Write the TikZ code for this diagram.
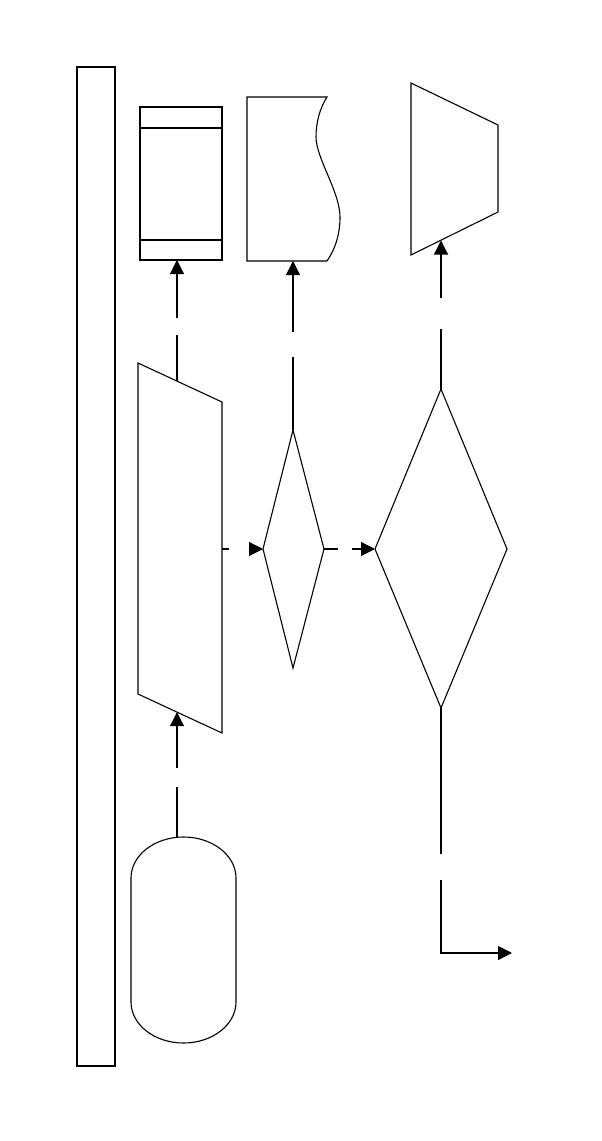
\documentclass[tikz,border=0pt]{standalone}
\usetikzlibrary{arrows.meta}
\begin{document}
\begin{tikzpicture}[x=0.5pt,y=-0.5pt,
  shapeline/.style={draw=black,line width=0.55pt},
  conn/.style={draw=black,line width=0.55pt},
  arr/.style={conn,-{Triangle[length=7pt,width=7pt]}}]
\useasboundingbox (0,0) rectangle (601,1141);
% lane
\draw[shapeline] (77,67) rectangle (115,1066);
% storage box
\draw[shapeline] (140,107) rectangle (222,260);
\draw[shapeline] (140,128) -- (222,128) (140,240) -- (222,240);
\coordinate (storeB) at (177,260);
% paper tape
\draw[shapeline] (247,97) -- (327,97)
  .. controls (320,108) and (316,122) .. (316,137)
  .. controls (316,158) and (340,192) .. (340,217)
  .. controls (340,233) and (336,248) .. (327,261)
  -- (247,261) -- cycle;
\coordinate (tapeB) at (293,261);
% trapezoid
\draw[shapeline] (411,83) -- (498,125) -- (498,212) -- (411,255) -- cycle;
\coordinate (trapB) at (441,240.5);
% parallelogram
\draw[shapeline] (138,363) -- (222,402) -- (222,733) -- (138,694) -- cycle;
\coordinate (parT) at (177,381.2);
\coordinate (parB) at (177,712.2);
\coordinate (parR) at (222,549);
% small diamond
\draw[shapeline] (293,430) -- (324,549) -- (293,668) -- (263,549) -- cycle;
\coordinate (sdT) at (293,430);
\coordinate (sdL) at (263,549);
\coordinate (sdR) at (324,549);
% big diamond
\draw[shapeline] (441,389) -- (507,549) -- (441,708) -- (375,549) -- cycle;
\coordinate (bdT) at (441,389);
\coordinate (bdL) at (375,549);
\coordinate (bdB) at (441,708);
% terminal
\draw[shapeline] (131,878) arc[start angle=180,end angle=360,x radius=52.5,y radius=41]
  -- (236,1002) arc[start angle=0,end angle=180,x radius=52.5,y radius=41] -- cycle;
\coordinate (termT) at (177,837.3);
% gap ends
\coordinate (g1a) at (177,335);  \coordinate (g1b) at (177,318);
\coordinate (g2a) at (293,357);  \coordinate (g2b) at (293,332);
\coordinate (g3a) at (441,329);  \coordinate (g3b) at (441,298);
\coordinate (g4a) at (177,787);  \coordinate (g4b) at (177,768);
\coordinate (g5a) at (229,549);  \coordinate (g5b) at (250,549);
\coordinate (g6a) at (338,549);  \coordinate (g6b) at (352,549);
\coordinate (g7a) at (441,854);  \coordinate (g7b) at (441,880);
\coordinate (corner) at (441,953);
\coordinate (endpt) at (512,953);
% connectors
\draw[conn] (parT) -- (g1a);  \draw[arr] (g1b) -- (storeB);
\draw[conn] (sdT) -- (g2a);   \draw[arr] (g2b) -- (tapeB);
\draw[conn] (bdT) -- (g3a);   \draw[arr] (g3b) -- (trapB);
\draw[conn] (termT) -- (g4a); \draw[arr] (g4b) -- (parB);
\draw[conn] (parR) -- (g5a);  \draw[arr] (g5b) -- (sdL);
\draw[conn] (sdR) -- (g6a);   \draw[arr] (g6b) -- (bdL);
\draw[conn] (bdB) -- (g7a);   \draw[arr] (g7b) -- (corner) -- (endpt);
\end{tikzpicture}
\end{document}
